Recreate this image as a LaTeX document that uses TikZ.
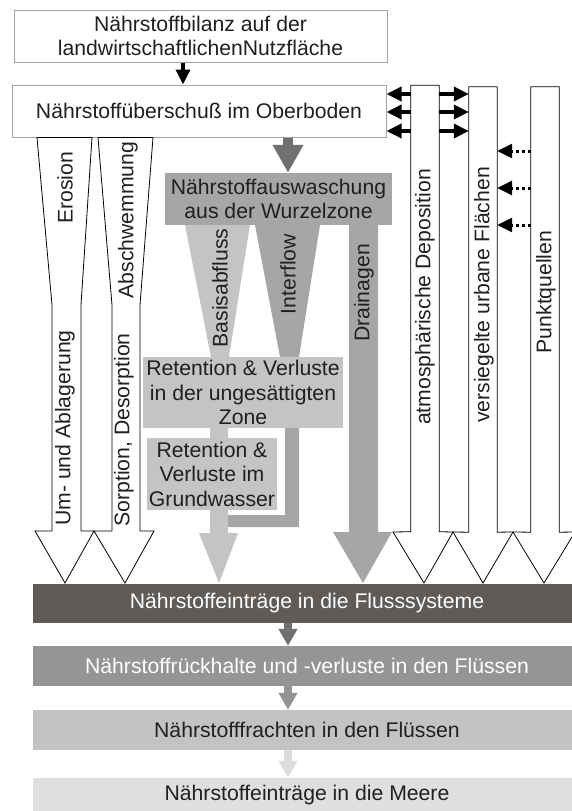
\documentclass[tikz,border=0pt]{standalone}
\usepackage{fontspec}
\setmainfont{Liberation Sans}
\usetikzlibrary{arrows.meta}
\definecolor{txt}{HTML}{231F20}
\definecolor{boxln}{HTML}{A3A3A3}
\definecolor{gA}{HTML}{A6A6A6}
\definecolor{gB}{HTML}{C4C4C4}
\definecolor{gD}{HTML}{707070}
\definecolor{bandA}{HTML}{5E5B59}
\definecolor{bandB}{HTML}{959595}
\definecolor{bandC}{HTML}{C3C3C3}
\definecolor{bandD}{HTML}{DFDFDF}
\definecolor{arrC}{HTML}{DCDCDC}
\begin{document}
\begin{tikzpicture}[x=1pt,y=-1pt,font=\fontsize{21.2}{24}\selectfont,text=txt,
  whitebox/.style={draw=boxln,line width=1pt,fill=white,inner sep=0pt,align=center},
  graybox/.style={fill=#1,inner sep=0pt,align=center},
  wblock/.style={draw=black,line width=0.8pt,fill=white,line join=miter},
  blk/.style={line width=3.5pt,-{Triangle[width=14pt,length=15pt]}},
  dotarr/.style={line width=3pt,dash pattern=on 3pt off 3pt,-{Triangle[width=14pt,length=15pt]}},
  vlabel/.style={rotate=90,inner sep=0pt},
  band/.style={fill=#1,inner sep=0pt,minimum width=548pt,font=\fontsize{21.2}{24}\selectfont},
  bandarrow/.style={line width=8pt,draw=#1,-{Triangle[width=18pt,length=17pt]}},
  shaft/.style={inner sep=0pt,minimum width=28pt,minimum height=446pt}
]
\useasboundingbox (0,0) rectangle (571,811);

% top boxes
\node[whitebox,minimum width=373pt,minimum height=52pt] (bil) at (200.5,36) {Nährstoffbilanz auf der\\landwirtschaftlichenNutzfläche};
\node[whitebox,minimum width=374pt,minimum height=52pt] (ob) at (199,111) {Nährstoffüberschuß im Oberboden};
\draw[blk] (bil.south -| 183,0) -- (ob.north -| 183,0);

% left white tapered block arrows
\draw[wblock] (ob.south -| 37,0) -- (ob.south -| 92,0) -- (81,305) -- (81,531) -- (94,531) -- (65,583) -- (35,531) -- (52,531) -- (52,305) -- cycle;
\draw[wblock] (ob.south -| 98,0) -- (ob.south -| 153,0) -- (140,305) -- (140,531) -- (154,531) -- (125,583) -- (94,531) -- (112,531) -- (112,305) -- cycle;
\node[vlabel] (ero) at (65,188) {Erosion};
\node[vlabel] (abl) at (65,428) {Um- und Ablagerung};
\node[vlabel] (abs) at (128,220) {Abschwemmung};
\node[vlabel] (sor) at (124,430) {Sorption, Desorption};

% central flows
\fill[gB] (185,225) -- (250,225) -- (229,357) -- (211,357) -- cycle;
\fill[gA] (255,225) -- (320,225) -- (299,357) -- (280,357) -- cycle;
\fill[gA] (285,428) -- (299,428) -- (299,527) -- (228,527) -- (228,515) -- (285,515) -- cycle;
\fill[gB] (210,428) -- (228,428) -- (228,533) -- (238,533) -- (219,583) -- (199,533) -- (210,533) -- cycle;
\fill[gA] (349,225) -- (378,225) -- (378,532) -- (392,532) -- (363,583) -- (333,532) -- (349,532) -- cycle;

\node[graybox=gA,minimum width=227pt,minimum height=52pt] (wz) at (278.5,199) {Nährstoffauswaschung\\aus der Wurzelzone};
\draw[line width=10pt,draw=gD,-{Triangle[width=29pt,length=28pt]}] (ob.south -| 288,0) -- (wz.north -| 288,0);

\node[graybox=gB,minimum width=200pt,minimum height=71pt,font=\fontsize{21.2}{24.5}\selectfont] (ru) at (243,392.5) {Retention \& Verluste\\in der ungesättigten\\Zone};
\node[graybox=gB,minimum width=130pt,minimum height=72pt,font=\fontsize{21.2}{24.5}\selectfont] (rg) at (212,474) {Retention \&\\Verluste im\\Grundwasser};

\node[vlabel] (bas) at (220,288) {Basisabfluss};
\node[vlabel] (inf) at (288,274) {Interflow};
\node[vlabel] (dra) at (364,293) {Drainagen};

% right white block arrows
\node[shaft] (atm) at (425,308.5) {};
\node[shaft,minimum height=445pt] (urb) at (483,309.5) {};
\node[shaft,minimum height=445pt] (pq) at (545,309.5) {};
\draw[wblock] (atm.north west) -- (atm.north east) -- (atm.south east) -- (453,532) -- (424,583) -- (393,532) -- (atm.south west) -- cycle;
\draw[wblock] (urb.north west) -- (urb.north east) -- (urb.south east) -- (513,532) -- (483,583) -- (453,532) -- (urb.south west) -- cycle;
\draw[wblock] (pq.north west) -- (pq.north east) -- (pq.south east) -- (575,532) -- (544,583) -- (513,532) -- (pq.south west) -- cycle;
\node[vlabel] at (425,297) {atmosphärische Deposition};
\node[vlabel] at (484,295) {versiegelte urbane Flächen};
\node[vlabel] at (546,292) {Punktquellen};

\foreach \yy in {94,112,131}{
  \draw[blk] (atm.west |- 0,\yy) -- (ob.east |- 0,\yy);
  \draw[blk] (atm.east |- 0,\yy) -- (urb.west |- 0,\yy);
}
\foreach \yy in {151,188,225}{
  \draw[dotarr] (pq.west |- 0,\yy) -- (urb.east |- 0,\yy);
}

% bottom bands
\node[band=bandA,minimum height=39pt,text=white] (b1) at (307,603.5) {Nährstoffeinträge in die Flusssysteme};
\node[band=bandB,minimum height=40pt,text=white] (b2) at (307,666) {Nährstoffrückhalte und -verluste in den Flüssen};
\node[band=bandC,minimum height=40pt] (b3) at (307,730) {Nährstofffrachten in den Flüssen};
\node[band=bandD,minimum height=34pt] (b4) at (307,795) {Nährstoffeinträge in die Meere};
\draw[bandarrow=gD] (b1.south -| 288,0) -- (b2.north -| 288,0);
\draw[bandarrow=bandB] (b2.south -| 288,0) -- (b3.north -| 288,0);
\draw[bandarrow=arrC] (b3.south -| 288,0) -- (b4.north -| 288,0);
\end{tikzpicture}
\end{document}
